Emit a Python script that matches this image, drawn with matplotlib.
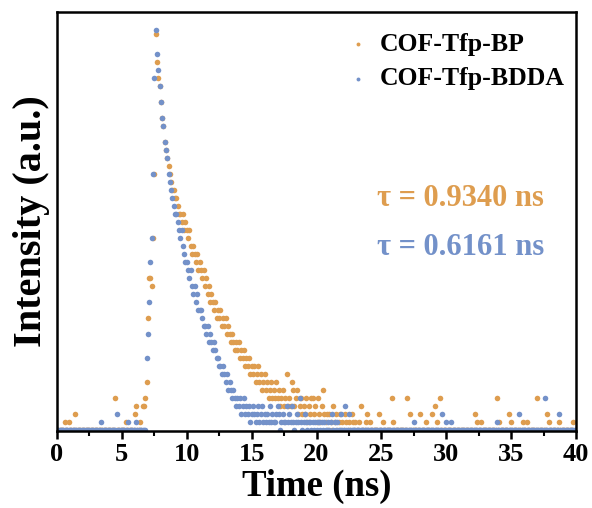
import numpy as np
import matplotlib
matplotlib.use("Agg")
import matplotlib.pyplot as plt
from matplotlib.ticker import MultipleLocator

# photon counts per 0.1 ns channel
bp_counts = [
    0, 0, 0, 0, 0, 0, 1, 0, 0, 1, 0, 0, 0, 0, 2, 0, 0, 0, 0, 0,
    0, 0, 0, 0, 0, 0, 0, 0, 0, 0, 0, 0, 0, 0, 0, 0, 0, 0, 0, 0,
    0, 0, 0, 0, 0, 4, 0, 0, 0, 0, 0, 0, 0, 1, 0, 0, 0, 0, 0, 0,
    2, 3, 0, 0, 1, 0, 3, 3, 4, 6, 14, 19, 19, 18, 24, 32, 49.5, 46, 44, 43,
    41, 39, 38, 36, 35, 34, 33, 32, 31, 30, 30, 29, 29, 28, 27, 27, 26, 27, 25, 26,
    25, 24, 25, 23, 22, 23, 22, 21, 22, 20, 21, 20, 19, 20, 18, 19, 17, 18, 16, 17,
    16, 15, 16, 14, 15, 14, 15, 13, 14, 13, 14, 12, 13, 12, 11, 12, 11, 10, 11, 10,
    11, 9, 10, 9, 10, 8, 9, 8, 9, 7, 8, 7, 8, 6, 7, 8, 6, 7, 5, 6,
    7, 5, 6, 4, 5, 6, 4, 5, 4, 6, 4, 5, 3, 4, 5, 3, 4, 7, 3, 4,
    3, 6, 5, 3, 4, 5, 2, 3, 4, 2, 3, 2, 4, 1, 3, 2, 4, 4, 2, 3,
    1, 4, 2, 1, 3, 5, 2, 1, 2, 0, 2, 1, 0, 3, 1, 2, 0, 1, 2, 0,
    1, 0, 2, 1, 0, 1, 0, 2, 1, 0, 1, 0, 0, 1, 3, 0, 0, 0, 1, 2,
    0, 1, 0, 0, 0, 0, 0, 0, 2, 0, 0, 1, 0, 0, 0, 0, 0, 0, 4, 1,
    0, 0, 0, 0, 0, 0, 0, 0, 0, 0, 4, 0, 2, 0, 0, 0, 0, 0, 0, 0,
    2, 0, 0, 0, 1, 0, 0, 0, 0, 2, 0, 3, 0, 1, 0, 4, 0, 0, 0, 0,
    0, 0, 0, 0, 0, 0, 0, 0, 0, 0, 0, 0, 0, 0, 0, 0, 0, 0, 0, 0,
    0, 0, 2, 0, 1, 0, 0, 1, 0, 0, 0, 0, 0, 0, 0, 0, 0, 0, 0, 4,
    0, 1, 0, 0, 0, 0, 0, 0, 2, 0, 1, 0, 0, 0, 0, 0, 0, 0, 0, 1,
    0, 0, 1, 0, 0, 0, 0, 0, 0, 0, 4, 0, 0, 0, 0, 0, 0, 0, 2, 1,
    0, 0, 0, 0, 0, 0, 0, 1, 0, 0, 0, 0, 0, 0, 0, 0, 0, 0, 1, 0,
]

bdda_counts = [
    0, 0, 0, 0, 0, 0, 0, 0, 0, 0, 0, 0, 0, 0, 0, 0, 0, 0, 0, 0,
    0, 0, 0, 0, 0, 0, 0, 0, 0, 0, 0, 0, 0, 0, 1, 0, 0, 0, 0, 0,
    0, 0, 0, 0, 0, 0, 2, 0, 0, 0, 0, 0, 0, 0, 0, 1, 0, 0, 0, 0,
    0, 1, 0, 0, 0, 0, 0, 0, 0, 9, 12, 16, 21, 24, 32, 44, 50, 47, 45, 43,
    41, 39, 38, 36, 35, 34, 32, 31, 30, 29, 28, 27, 27, 26, 25, 24, 25, 23, 22, 21,
    21, 20, 19, 20, 18, 17, 18, 16, 17, 15, 15, 15, 14, 13, 13, 12, 13, 11, 12, 11,
    10, 11, 10, 9, 9, 8, 8, 7, 8, 7, 6, 7, 5, 6, 5, 4, 5, 4, 3, 4,
    3, 4, 2, 3, 4, 2, 3, 2, 3, 1, 2, 3, 2, 1, 2, 3, 1, 2, 3, 1,
    2, 1, 2, 1, 3, 1, 2, 1, 1, 2, 3, 2, 0, 1, 2, 1, 1, 3, 1, 2,
    1, 3, 1, 0, 1, 2, 1, 4, 1, 0, 1, 2, 1, 0, 1, 1, 0, 1, 0, 1,
    0, 1, 1, 0, 1, 0, 1, 0, 0, 1, 0, 1, 2, 0, 1, 0, 1, 0, 0, 2,
    0, 0, 3, 0, 0, 2, 0, 0, 0, 0, 0, 0, 0, 0, 0, 0, 0, 0, 0, 0,
    0, 0, 0, 0, 0, 0, 0, 0, 0, 0, 0, 0, 0, 0, 0, 0, 0, 0, 0, 0,
    0, 0, 0, 0, 0, 0, 0, 0, 0, 0, 0, 0, 0, 0, 0, 1, 0, 0, 0, 0,
    0, 0, 0, 0, 0, 0, 0, 0, 0, 0, 0, 0, 0, 0, 0, 0, 0, 2, 0, 0,
    1, 0, 0, 0, 1, 0, 0, 0, 0, 0, 0, 0, 0, 0, 0, 0, 0, 0, 0, 0,
    0, 0, 0, 0, 0, 0, 0, 0, 0, 0, 0, 0, 0, 0, 0, 0, 0, 0, 0, 1,
    0, 0, 0, 0, 0, 0, 0, 0, 0, 0, 0, 0, 0, 0, 0, 0, 2, 0, 0, 0,
    0, 0, 0, 0, 0, 0, 0, 0, 0, 0, 0, 0, 0, 0, 0, 0, 4, 0, 0, 0,
    0, 0, 0, 0, 0, 0, 0, 2, 0, 0, 0, 0, 0, 0, 0, 0, 0, 0, 0, 0,
]

channel_ns = 0.1  # TCSPC channel width
time_ns = np.arange(len(bp_counts)) * channel_ns

series_labels = ["COF-Tfp-BP", "COF-Tfp-BDDA"]
tau_labels = ["\u03c4 = 0.9340 ns", "\u03c4 = 0.6161 ns"]
xticks = [0, 5, 10, 15, 20, 25, 30, 35, 40]

orange = "#DE9D4F"
blue = "#7391C9"

plt.rcParams["font.family"] = ["Liberation Serif", "DejaVu Serif"]
plt.rcParams["font.weight"] = "bold"

fig = plt.figure(figsize=(5.92, 5.08), dpi=100)
ax = fig.add_axes([0.0963, 0.1516, 0.8767, 0.8248])

ax.scatter(time_ns, bp_counts, s=16, color=orange, linewidths=0, label=series_labels[0])
ax.scatter(time_ns, bdda_counts, s=16, color=blue, linewidths=0, label=series_labels[1])

ax.set_xlim(0, 40)
ax.set_ylim(-0.12, 52.2)
ax.set_xticks(xticks)
ax.xaxis.set_minor_locator(MultipleLocator(2.5))
ax.set_yticks([])
ax.tick_params(axis="x", which="major", direction="out", length=6, width=1.8, labelsize=19, pad=3)
ax.tick_params(axis="x", which="minor", direction="out", length=3.5, width=1.5)
for sp in ax.spines.values():
    sp.set_linewidth(1.8)

ax.set_xlabel("Time (ns)", fontsize=26.5, fontweight="bold", labelpad=2)
ax.set_ylabel("Intensity (a.u.)", fontsize=29, fontweight="bold", labelpad=5)

leg = ax.legend(loc="upper left", bbox_to_anchor=(0.535, 0.975), frameon=False,
                markerscale=0.7, handletextpad=0.35, handlelength=1.0,
                borderaxespad=0.0, labelspacing=0.45,
                prop={"weight": "bold", "size": 18.5})

ax.text(0.617, 0.556, tau_labels[0], transform=ax.transAxes, color=orange,
        fontsize=22, fontweight="bold", va="center", ha="left")
ax.text(0.617, 0.437, tau_labels[1], transform=ax.transAxes, color=blue,
        fontsize=22, fontweight="bold", va="center", ha="left")

fig.savefig("out.png", dpi=100)
